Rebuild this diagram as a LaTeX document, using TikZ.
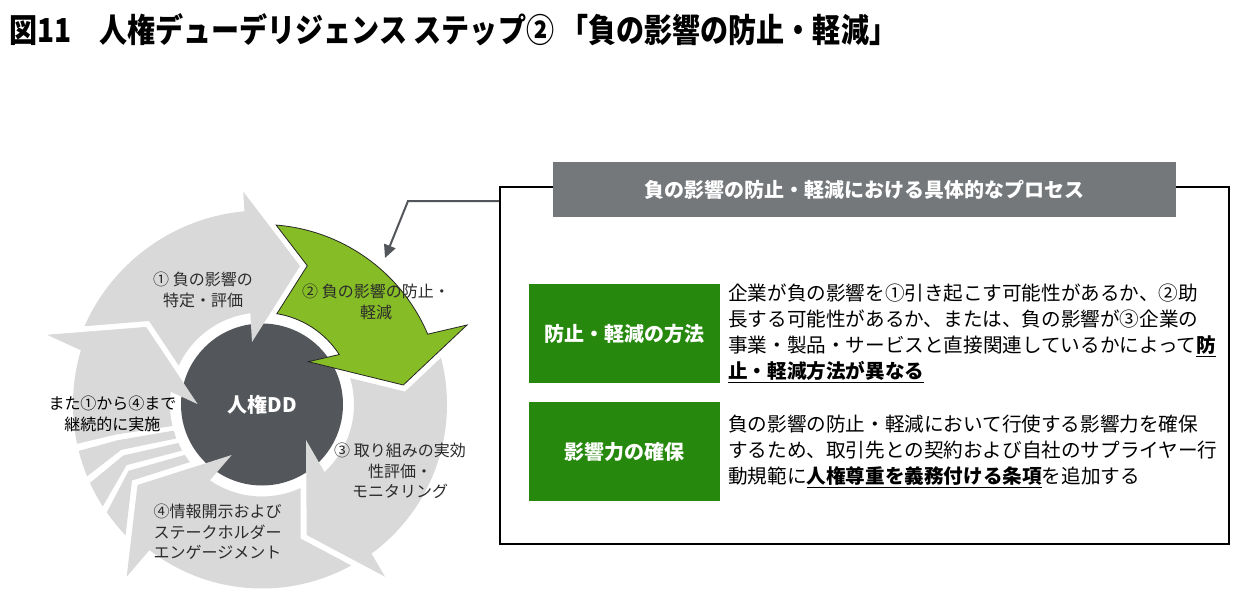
\documentclass[tikz,border=0pt]{standalone}
\usepackage{fontspec}
\setmainfont{Noto Sans CJK JP}
\newfontfamily\titlefont[FakeStretch=0.85]{Noto Sans CJK JP}
\usetikzlibrary{arrows.meta}
\definecolor{ringgray}{HTML}{D9D9D9}
\definecolor{leafgreen}{HTML}{86BC25}
\definecolor{hubgray}{HTML}{53565A}
\definecolor{headgray}{HTML}{75787B}
\definecolor{boxgreen}{HTML}{26890D}
\definecolor{labelgray}{HTML}{2B2B2B}
\newsavebox{\ulbox}
\newcommand{\myul}[1]{\sbox{\ulbox}{#1}\rlap{\rule[-4.5pt]{\wd\ulbox}{1.5pt}}\usebox{\ulbox}}
\begin{document}
\begin{tikzpicture}[x=1pt,y=-1pt,
  lab/.style={font=\fontsize{16}{20.5}\selectfont, text=labelgray, align=center, inner sep=0},
  bodytext/.style={font=\fontsize{19.6}{26}\selectfont, text=black, align=left, inner sep=0, anchor=west},
  greenlabel/.style={fill=boxgreen, text=white, font=\fontsize{20}{24}\selectfont\bfseries, minimum width=191pt, minimum height=99pt, anchor=north west, inner sep=0},
  ringpiece/.style={fill=ringgray},
  conn/.style={draw=hubgray, line width=2pt, -{Triangle[length=13pt,width=12pt]}}
]
\useasboundingbox (0,0) rectangle (1256,608);
\fill[white] (0,0) rectangle (1256,608);

% title
\node[anchor=west, inner sep=0, font=\titlefont\fontsize{33}{36}\selectfont\bfseries] (title) at (9,30) {図11　人権デューデリジェンス ステップ② 「負の影響の防止・軽減」};

% cycle
\begin{scope}[shift={(262,404.5)}, yscale=-1]
  \begin{scope}
    \clip (0,0) circle[radius=189];
    \fill[ringpiece] (-223.8,-48.6) -- (-146,-30) -- (-40,-14.1) -- (-65.3,1.2) -- (-213.7,69.5) -- (-304.5,111.3) -- (-320,-48.6) -- cycle;
    \fill[ringpiece] (-222.4,-57.1) -- (-144.03,-35.67) -- (-40,-17.9) -- (-40,-24.56) -- (-140.68,-45.3) -- (-208.9,-98.1) -- cycle;
    \fill[ringpiece] (-205.3,-105.8) -- (-138.7,-51) -- (-40,-28.6) -- (-40,-35.6) -- (-135.4,-60.6) -- (-183,-143) -- cycle;
    \fill[ringpiece] (-177,-149.3) -- (-133.4,-66.3) -- (-40,-39.9) -- (-40,-47.3) -- (-130,-76) -- (-147.6,-225) -- cycle;
  \end{scope}
  \fill[white] (0,0) circle[radius=92];
  \node[circle, fill=hubgray, minimum size=162pt, inner sep=0, text=white, font=\fontsize{20}{24}\selectfont\bfseries] (hub) at (0,0) {人権DD};
  % arrow 5 head
  \filldraw[ringpiece, draw=ringgray, line width=0.6pt] (-213.7,69.5) -- (-116,77.2) -- (-65.3,1.2) -- cycle;
  % arrow 1
  \fill[ringpiece] (156.2:194) arc[start angle=156.2, end angle=95.2, radius=194] -- (-18.7,212.8) -- (38,138.5) -- (-10,62.5) -- (97.3:92) arc[start angle=97.3, end angle=154.9, radius=92] -- (-113,83.5) -- cycle;
  % arrow 3
  \fill[ringpiece] (14.65:185) arc[start angle=14.65, end angle=-53.7, radius=185] -- (123,-172.2) -- (44.7,-130.5) -- (44,-35.5) -- (-47.2:92) arc[start angle=-47.2, end angle=16.7, radius=92] -- (88.1,26.4) -- (143.05,12.9) -- cycle;
  % arrow 4
  \fill[ringpiece] (-61:184) arc[start angle=-61, end angle=-127.7, radius=184] -- (-135.3,-172.2) -- (-124.5,-80.5) -- (-30.3,-50.5) -- (-124.5:92) arc[start angle=-124.5, end angle=-65.1, radius=92] -- (38.7,-83.5) -- (38.7,-134.1) -- cycle;
  % arrow 2 (green)
  \filldraw[fill=leafgreen, draw=black!85, line width=0.8pt] (85.5:180) arc[start angle=85.5, end angle=23.0, radius=180] -- (205,79.5) -- (141.3,19.5) -- (46.3,42.8) -- (32.9:92) arc[start angle=32.9, end angle=80.7, radius=92] -- (45.3,138.8) -- cycle;
\end{scope}

% cycle labels
\node[lab] (l1) at (203,290) {① 負の影響の\\特定・評価};
\node[lab] (l2) at (376,301.7) {② 負の影響の防止・\\軽減};
\node[lab] (l3) at (400,471) {③ 取り組みの実効\\性評価・\\モニタリング};
\node[lab] (l4) at (217.5,531.7) {④情報開示および\\ステークホルダー\\エンゲージメント};
\node[lab, text=black] (l5) at (112.5,414) {また①から④まで\\継続的に実施};

% right panel
\node[draw=black, line width=2pt, minimum width=729pt, minimum height=357pt, anchor=north west, inner sep=0] (procbox) at (499,186) {};
\node[fill=headgray, text=white, font=\fontsize{20}{24}\selectfont\bfseries, minimum width=623pt, minimum height=55pt, anchor=north west, inner sep=0] (hdr) at (553,162) {負の影響の防止・軽減における具体的なプロセス};
\node[greenlabel] (m1) at (529,284) {防止・軽減の方法};
\node[greenlabel] (m2) at (529,402) {影響力の確保};
\node[bodytext] (t1) at (728,333.5) {企業が負の影響を①引き起こす可能性があるか、②助\\長する可能性があるか、または、負の影響が③企業の\\事業・製品・サービスと直接関連しているかによって\myul{\bfseries 防}\\\myul{\bfseries 止・軽減方法が異なる}};
\node[bodytext] (t2) at (728,451.5) {負の影響の防止・軽減において行使する影響力を確保\\するため、取引先との契約および自社のサプライヤー行\\動規範に\myul{\bfseries 人権尊重を義務付ける条項}を追加する};

% connector
\coordinate (cstart) at (499,201);
\coordinate (cbend) at (408,201);
\coordinate (ctip) at (385,258);
\draw[conn] (cstart) -- (cbend) -- (ctip);
\end{tikzpicture}
\end{document}
